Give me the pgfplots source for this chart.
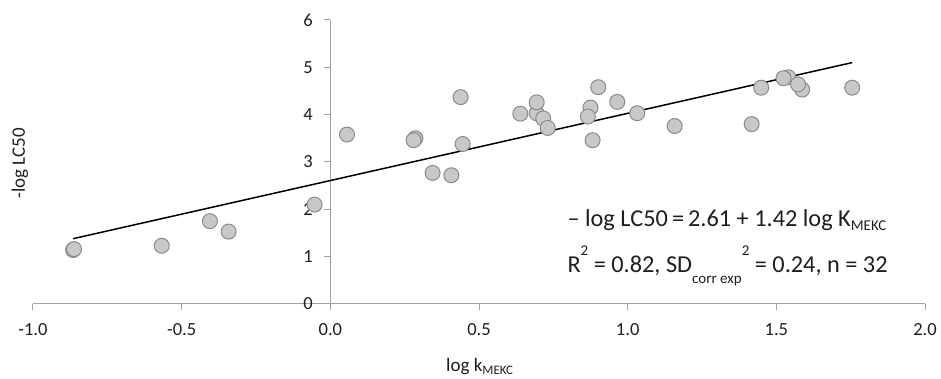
\documentclass[border=0pt]{standalone}
\usepackage{fontspec}
\setmainfont{Carlito}
\usepackage{pgfplots}
\pgfplotsset{compat=1.18}
\definecolor{axgray}{HTML}{A0A0A0}
\definecolor{mkfill}{HTML}{C8C8C8}
\definecolor{mkedge}{HTML}{8A8A8A}
\definecolor{txt}{HTML}{1E1E1E}
\begin{document}
\begin{tikzpicture}
\begin{axis}[
  at={(0,0)}, anchor=south west,
  scale only axis,
  width=892pt, height=284pt,
  xmin=-1, xmax=2, ymin=0, ymax=6,
  axis x line=middle, axis y line=middle,
  axis line style={axgray, line width=1pt, -},
  hide obscured x ticks=false, hide obscured y ticks=false,
  xtick={-1,-0.5,0,0.5,1,1.5,2},
  ytick={0,1,2,3,4,5,6},
  tick align=outside,
  major tick length=6pt,
  tick style={axgray, line width=1pt},
  xticklabel style={font=\fontsize{18.5}{22}\selectfont, text=txt, yshift=-10pt},
  yticklabel style={font=\fontsize{18.5}{22}\selectfont, text=txt, xshift=-8pt},
  x tick label style={/pgf/number format/.cd, fixed, fixed zerofill, precision=1},
  /pgf/number format/assume math mode=true,
  every axis x label/.style={at={(axis description cs:0.501,-0.2394)}, anchor=base, font=\fontsize{19}{22}\selectfont, text=txt},
  every axis y label/.style={at={(axis description cs:-0.0146,0.496)}, rotate=90, anchor=center, font=\fontsize{19}{22}\selectfont, text=txt},
  xlabel={log k\textsubscript{\fontsize{13}{14}\selectfont MEKC}},
  ylabel={-log LC50},
  clip=false,
]
\addplot[only marks, mark=*, mark size=7.5pt, mark options={fill=mkfill, draw=mkedge, line width=1pt}] coordinates {
(-0.865,1.14) (-0.862,1.16) (-0.567,1.23) (-0.405,1.75) (-0.342,1.53) (-0.053,2.10)
(0.056,3.58) (0.286,3.50) (0.280,3.46) (0.344,2.77) (0.407,2.72) (0.438,4.37) (0.445,3.38)
(0.639,4.02) (0.694,4.03) (0.716,3.92) (0.731,3.72) (0.694,4.26)
(0.875,4.15) (0.866,3.96) (0.882,3.46) (0.901,4.58) (0.965,4.27) (1.032,4.03)
(1.158,3.76) (1.417,3.80) (1.449,4.57) (1.540,4.79) (1.524,4.77) (1.587,4.53) (1.573,4.64) (1.755,4.57)
};
\addplot[black, line width=1.5pt] coordinates {(-0.865,1.38) (1.755,5.10)};
\node[anchor=base west, font=\fontsize{24.3}{27}\selectfont, text=txt, inner sep=0pt] at (axis cs:0.797,1.633)
  {– log LC50\,=\,2.61 + 1.42 log K\textsubscript{\fontsize{15}{16}\selectfont MEKC}};
\node[anchor=base west, font=\fontsize{24.3}{27}\selectfont, text=txt, inner sep=0pt] at (axis cs:0.797,0.655)
  {R\raisebox{0.72em}{\fontsize{15}{16}\selectfont 2} = 0.82, SD\raisebox{-0.45em}{\fontsize{15}{16}\selectfont corr exp}\raisebox{0.72em}{\fontsize{15}{16}\selectfont 2} = 0.24, n = 32};
\end{axis}
\pgfresetboundingbox
\path (-33pt,-75pt) rectangle (908pt,304pt);
\end{tikzpicture}
\end{document}
